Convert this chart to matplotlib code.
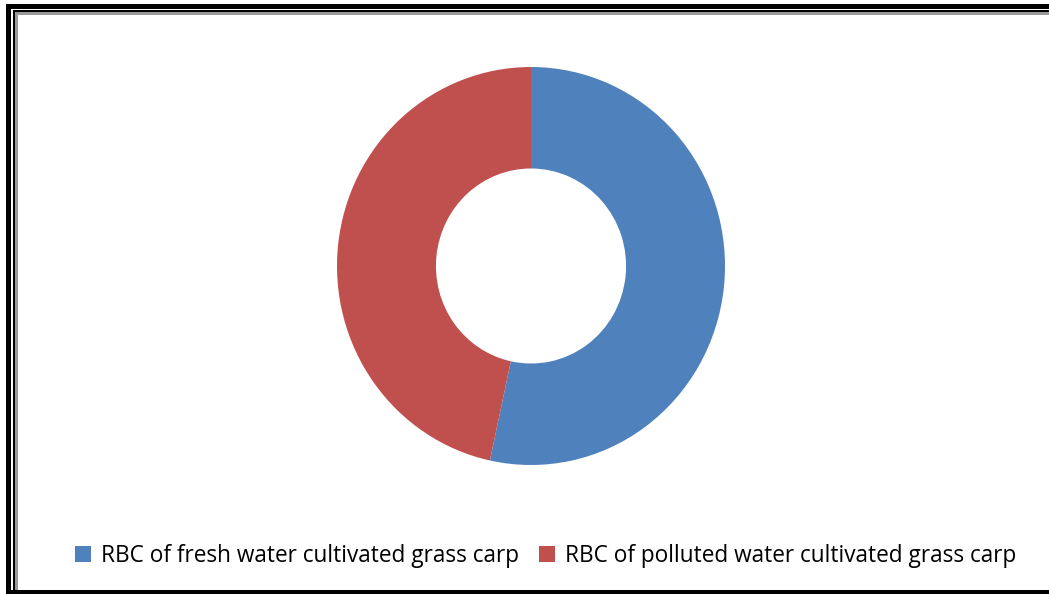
import matplotlib.pyplot as plt
from matplotlib.patches import Rectangle, Patch

# RBC share of the two grass carp groups
labels = ['RBC of fresh water cultivated grass carp',
          'RBC of polluted water cultivated grass carp']
values = [53.4, 46.6]
colors = ['#4F81BD', '#C0504D']

W, H = 1049, 594
fig = plt.figure(figsize=(W / 100, H / 100), dpi=100)


def px_rect(x0, y0, x1, y1, color):
    # rectangle given in pixel coordinates measured from the top-left corner
    fig.patches.append(Rectangle((x0 / W, 1 - y1 / H), (x1 - x0) / W, (y1 - y0) / H,
                                 transform=fig.transFigure, color=color, lw=0))


# page frame: thick black, thin black, then a grey rule
px_rect(6, 4, W, 9, 'black')
px_rect(6, 4, 11, H, 'black')
px_rect(13, 10, W, 12, 'black')
px_rect(13, 10, 15, 590, 'black')
px_rect(15, 12, W, 14.5, '#9a9a9a')
px_rect(15, 12, 17.5, 590, '#9a9a9a')
px_rect(6, 590, W, H, 'black')

ax = fig.add_axes([337 / W, 1 - 465 / H, 388 / W, 398 / H])
ax.pie(values, colors=colors, startangle=90, counterclock=False,
       radius=1.0, wedgeprops=dict(width=0.51, edgecolor='none'))
ax.set_aspect('auto')
ax.set_xlim(-1, 1)
ax.set_ylim(-1, 1)
ax.axis('off')

handles = [Patch(facecolor=c, edgecolor='none') for c in colors]
fig.legend(handles, labels, loc='center', bbox_to_anchor=(545.5 / W, 1 - 556 / H),
           ncol=2, frameon=False, handlelength=0.7, handleheight=0.7,
           handletextpad=0.45, columnspacing=0.9,
           prop={'family': 'Open Sans', 'size': 16.3})

fig.savefig('out.png', dpi=100)
